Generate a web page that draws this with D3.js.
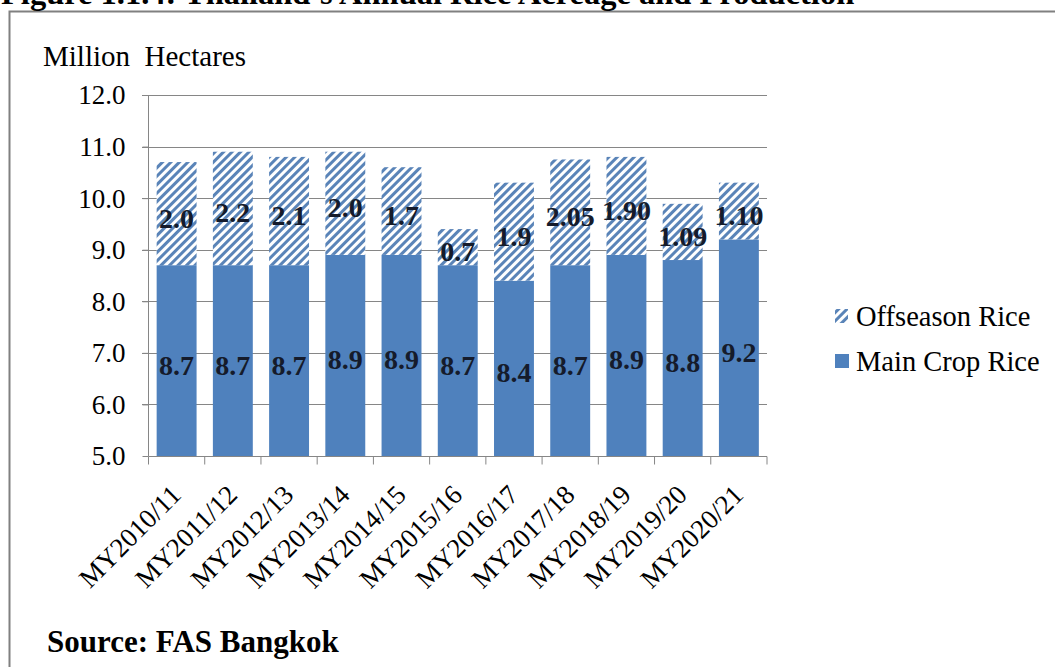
<!DOCTYPE html>
<html>
<head>
<meta charset="utf-8">
<script src="https://cdn.jsdelivr.net/npm/d3@7"></script>
<style>
  html, body { margin: 0; padding: 0; background: #fff; }
  svg { display: block; }
  text { font-family: "Liberation Serif", "Times New Roman", serif; }
</style>
</head>
<body>
<svg id="chart" width="1055" height="667"></svg>
<script>
const categories = ["MY2010/11","MY2011/12","MY2012/13","MY2013/14","MY2014/15","MY2015/16","MY2016/17","MY2017/18","MY2018/19","MY2019/20","MY2020/21"];
const mainCrop = [8.7, 8.7, 8.7, 8.9, 8.9, 8.7, 8.4, 8.7, 8.9, 8.8, 9.2];
const offseason = [2.0, 2.2, 2.1, 2.0, 1.7, 0.7, 1.9, 2.05, 1.90, 1.09, 1.10];
const offseasonLabels = ["2.0","2.2","2.1","2.0","1.7","0.7","1.9","2.05","1.90","1.09","1.10"];
const mainLabels = ["8.7","8.7","8.7","8.9","8.9","8.7","8.4","8.7","8.9","8.8","9.2"];
const yTicks = [5, 6, 7, 8, 9, 10, 11, 12];
const seriesNames = ["Offseason Rice", "Main Crop Rice"];
const title = "Figure 1.1.4: Thailand\u2019s Annual Rice Acreage and Production";
const yUnit = "Million  Hectares";
const source = "Source: FAS Bangkok";

const blue = "#4f81bd";
const gridColor = "#868686";
const svg = d3.select("#chart");

const defs = svg.append("defs");
const pat = defs.append("pattern")
  .attr("id", "hatch").attr("patternUnits", "userSpaceOnUse")
  .attr("width", 6).attr("height", 6)
  .attr("patternTransform", "rotate(45)");
pat.append("rect").attr("width", 6).attr("height", 6).attr("fill", "#fff");
pat.append("rect").attr("width", 3).attr("height", 6).attr("fill", "#5a84b8");

// frame
svg.append("path").attr("d", "M9.5,667 L9.5,11.5 L1055,11.5")
  .attr("fill", "none").attr("stroke", "#808080").attr("stroke-width", 2);

// title
svg.append("text").attr("x", 1).attr("y", 4)
  .attr("font-size", 32.5).attr("font-weight", "bold").attr("fill", "#000")
  .text(title);

const x = d3.scaleBand().domain(categories).range([148.5, 767]).paddingInner(0.29).paddingOuter(0.145);
const y = d3.scaleLinear().domain([5, 12]).range([456, 95]);

// gridlines
svg.append("g").selectAll("line").data(yTicks.filter(d => d > 5)).join("line")
  .attr("x1", 142).attr("x2", 767)
  .attr("y1", d => Math.round(y(d)) + 0.5).attr("y2", d => Math.round(y(d)) + 0.5)
  .attr("stroke", gridColor).attr("stroke-width", 1);

// y axis
const yAxis = d3.axisLeft(y).tickValues(yTicks).tickFormat(d3.format(".1f")).tickSize(6).tickPadding(17);
const gy = svg.append("g").attr("transform", "translate(148.5,0)").call(yAxis);
gy.select(".domain").attr("stroke", gridColor).attr("d", `M0,${y(12)}V${y(5)}`);
gy.selectAll(".tick line").attr("stroke", gridColor);
gy.selectAll(".tick text").attr("font-size", 27).attr("fill", "#000")
  .attr("font-family", "Liberation Serif, serif").attr("dy", "0.33em");

// bars
const stackData = categories.map((c, i) => ({c, main: mainCrop[i], off: offseason[i]}));
svg.append("g").selectAll("rect").data(stackData).join("rect")
  .attr("x", d => x(d.c)).attr("width", x.bandwidth())
  .attr("y", d => y(d.main)).attr("height", d => y(5) - y(d.main))
  .attr("fill", blue);
svg.append("g").selectAll("rect").data(stackData).join("rect")
  .attr("x", d => x(d.c)).attr("width", x.bandwidth())
  .attr("y", d => y(d.main + d.off)).attr("height", d => y(d.main) - y(d.main + d.off))
  .attr("fill", "url(#hatch)");

// x axis
const step = x.step();
const gx = svg.append("g").attr("transform", "translate(0,456.5)");
gx.append("line").attr("x1", 148.5).attr("x2", 767).attr("stroke", gridColor);
const boundaries = d3.range(categories.length + 1).map(i => 148.5 + i * step);
gx.selectAll("line.t").data(boundaries).join("line").attr("class", "t")
  .attr("x1", d => d).attr("x2", d => d).attr("y1", 0).attr("y2", 8).attr("stroke", gridColor);
gx.selectAll("text").data(categories).join("text")
  .attr("transform", d => `translate(${x(d) + x.bandwidth() / 2 + 6},${40}) rotate(-45)`)
  .attr("text-anchor", "end").attr("font-size", 27).attr("fill", "#000")
  .text(d => d);

// data labels
svg.append("g").selectAll("text").data(stackData).join("text")
  .attr("x", d => x(d.c) + x.bandwidth() / 2)
  .attr("y", d => (y(d.main) + y(d.main + d.off)) / 2)
  .attr("dy", "0.5em").attr("text-anchor", "middle")
  .attr("font-size", 28).attr("font-weight", "bold").attr("fill", "#151b2b")
  .text((d, i) => offseasonLabels[i]);
svg.append("g").selectAll("text").data(stackData).join("text")
  .attr("x", d => x(d.c) + x.bandwidth() / 2)
  .attr("y", d => (y(d.main) + y(5)) / 2)
  .attr("dy", "0.5em").attr("text-anchor", "middle")
  .attr("font-size", 28).attr("font-weight", "bold").attr("fill", "#151b2b")
  .text((d, i) => mainLabels[i]);

// axis unit
svg.append("text").attr("x", 43).attr("y", 66).attr("font-size", 29).attr("fill", "#000")
  .style("white-space", "pre").text(yUnit);

// legend
const leg = svg.append("g");
const legY = [316, 361];
leg.append("rect").attr("x", 835).attr("y", legY[0] - 7).attr("width", 13).attr("height", 14).attr("fill", "url(#hatch)");
leg.append("rect").attr("x", 835).attr("y", legY[1] - 7).attr("width", 14).attr("height", 14).attr("fill", blue);
leg.selectAll("text").data(seriesNames).join("text")
  .attr("x", 856).attr("y", (d, i) => legY[i]).attr("dy", "0.35em")
  .attr("font-size", 28.5).attr("fill", "#000").text(d => d);

// source
svg.append("text").attr("x", 47).attr("y", 652).attr("font-size", 31).attr("font-weight", "bold")
  .attr("fill", "#000").text(source);
</script>
</body>
</html>
